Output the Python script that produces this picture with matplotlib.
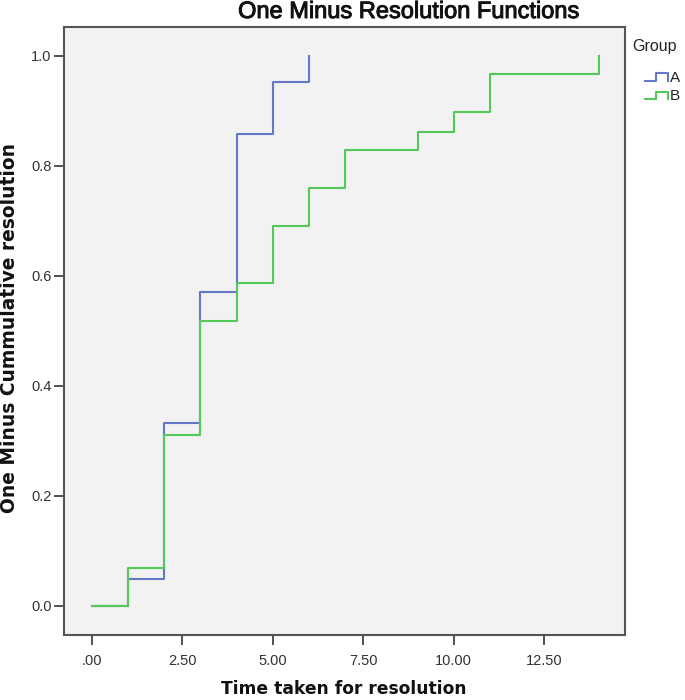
import matplotlib.pyplot as plt
import matplotlib.patheffects as pe
from matplotlib.legend_handler import HandlerBase
from matplotlib.lines import Line2D
import numpy as np

# step data (time, one minus cumulative resolution)
time_a = [0, 1, 2, 3, 4, 5, 6, 6]
val_a = [0.0, 0.048, 0.333, 0.571, 0.857, 0.952, 1.0, 1.0]
time_b = [0, 1, 2, 3, 4, 5, 6, 7, 9, 10, 11, 14, 14]
val_b = [0.0, 0.069, 0.310, 0.517, 0.586, 0.690, 0.759, 0.828, 0.862, 0.897, 0.966, 1.0, 1.0]

groups = ["A", "B"]
colors = ["#6578C8", "#55C85A"]

xticks = [0, 2.5, 5, 7.5, 10, 12.5]
xlabels = [".00", "2.50", "5.00", "7.50", "10.00", "12.50"]
yticks = [0.0, 0.2, 0.4, 0.6, 0.8, 1.0]
ylabels = ["0.0", "0.2", "0.4", "0.6", "0.8", "1.0"]

plt.rcParams['font.family'] = ['Liberation Sans', 'DejaVu Sans']

fig = plt.figure(figsize=(6.85, 7.0), dpi=100)
ax = fig.add_axes([64 / 685, 65 / 700, 561 / 685, 608 / 700])
ax.set_facecolor("#F2F2F2")

# each step: value holds until the next time point
def steps(t, v):
    xs, ys = [t[0]], [v[0]]
    for i in range(1, len(t)):
        xs += [t[i], t[i]]
        ys += [v[i - 1], v[i]]
    return xs, ys

xa, ya = steps(time_a[:-1], val_a[:-1])
xb, yb = steps(time_b[:-1], val_b[:-1])
ax.plot(xa, ya, color=colors[0], lw=1.5)
ax.plot(xb, yb, color=colors[1], lw=1.5)

ax.set_xlim(-0.765, 14.73)
ax.set_ylim(-0.053, 1.052)
ax.set_xticks(xticks)
ax.set_xticklabels(xlabels)
ax.set_yticks(yticks)
ax.set_yticklabels(ylabels)
ax.tick_params(direction="out", length=7, width=1.2, color="#333333",
               labelsize=10.5, labelcolor="#333333")
ax.tick_params(axis="x", pad=7)
ax.tick_params(axis="y", pad=2)
for s in ax.spines.values():
    s.set_color("#555555")
    s.set_linewidth(1.5)

fig.text(344 / 685, 1 - 689 / 700, "Time taken for resolution", ha="center", va="center",
         fontsize=12.3, fontweight="bold", family="DejaVu Sans", color="#111111")
fig.text(10 / 685, 1 - 328 / 700, "One Minus Cummulative resolution", ha="center", va="center",
         rotation=90, fontsize=13.4, fontweight="bold", family="DejaVu Sans", color="#111111")
title = fig.text(409 / 685, 1 - 12 / 700, "One Minus Resolution Functions", ha="center", va="center",
                 fontsize=17, color="#111111")
title.set_path_effects([pe.withStroke(linewidth=0.7, foreground="#111111")])


class StepHandler(HandlerBase):
    def create_artists(self, legend, orig, xd, yd, w, h, fontsize, trans):
        xs = [xd, xd + w * 0.5, xd + w * 0.5, xd + w, xd + w]
        ys = [yd + h * 0.1, yd + h * 0.1, yd + h * 0.8, yd + h * 0.8, yd + h * 0.1]
        ln = Line2D(xs, ys, color=orig.get_color(), lw=1.5, transform=trans)
        return [ln]


fig.text(632 / 685, 1 - 46 / 700, "Group", ha="left", va="center", fontsize=11.5, color="#222222")
handles = [Line2D([], [], color=c) for c in colors]
leg = fig.legend(handles, groups, loc="upper left",
                 bbox_to_anchor=(634 / 685, 1 - 60 / 700), frameon=False,
                 handler_map={Line2D: StepHandler()}, handlelength=1.5,
                 handletextpad=0.15, fontsize=11,
                 labelspacing=0.3, borderpad=0.2)
for t in leg.get_texts():
    t.set_color("#222222")

fig.savefig("out.png", dpi=100, facecolor="white")
